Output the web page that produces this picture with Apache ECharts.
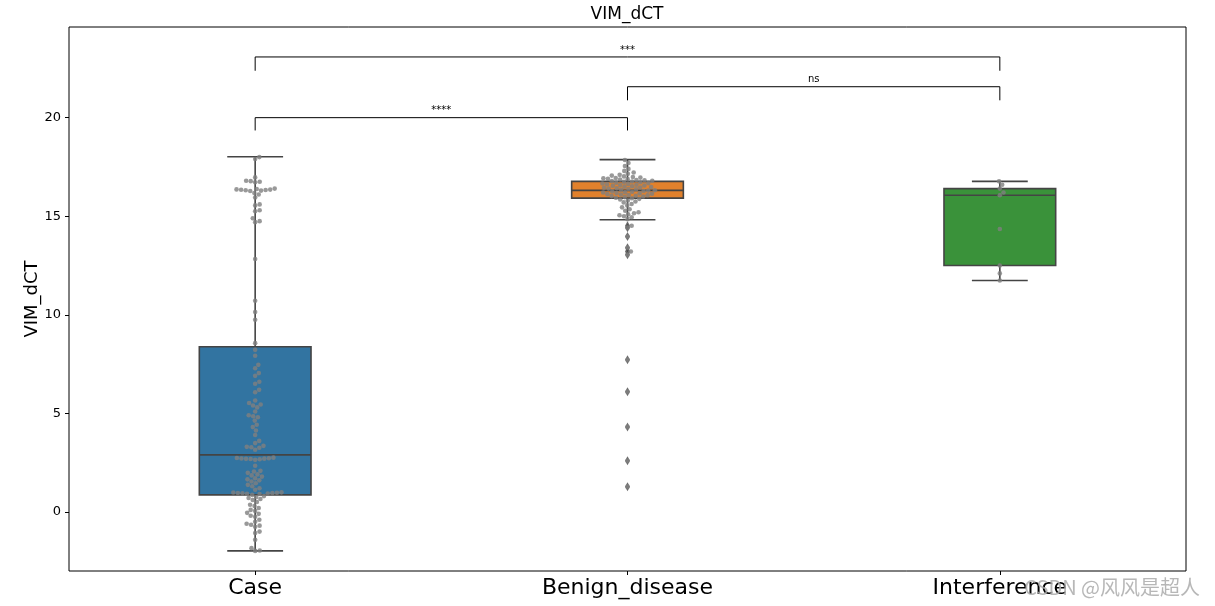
<!DOCTYPE html>
<html>
<head>
<meta charset="utf-8">
<script src="https://cdn.jsdelivr.net/npm/echarts@6/dist/echarts.min.js"></script>
<style>
  html, body { margin: 0; padding: 0; background: #fff; }
  #main { width: 1215px; height: 606px; }
</style>
</head>
<body>
<div id="main"></div>
<script>
// groups and box colours
var categories = ['Case', 'Benign_disease', 'Interference'];
var boxColors = ['#3274a1', '#e1812c', '#3a923a'];

// whisker low, Q1, median, Q3, whisker high
var boxCase = [-1.98, 0.86, 2.89, 8.38, 18.02];
var boxBenign = [14.82, 15.92, 16.31, 16.77, 17.87];
var boxInterference = [11.74, 12.50, 16.06, 16.40, 16.77];

// raw VIM_dCT values per group
var caseValues = [
  18.0, 17.9, 16.97, 16.8, 16.78, 16.75, 16.72,
  16.4, 16.38, 16.36, 16.35, 16.34, 16.33, 16.32, 16.3, 16.28,
  16.18, 16.1, 15.95, 15.6, 15.55, 15.3, 15.25, 14.9, 14.75, 14.7,
  12.83, 10.71, 10.14, 9.75, 8.56, 8.22, 7.92, 7.46, 7.29, 7.04, 6.9, 6.6, 6.5,
  6.19, 6.07, 5.65, 5.52, 5.45, 5.4, 5.3, 5.09, 4.9, 4.85, 4.8, 4.63, 4.42, 4.3, 4.13,
  3.9, 3.6, 3.49, 3.35, 3.3, 3.28, 3.25, 3.15,
  2.75, 2.73, 2.72, 2.71, 2.7, 2.69, 2.68, 2.67, 2.64, 2.34, 2.08, 2.05, 1.98,
  1.9, 1.85, 1.79, 1.7, 1.65, 1.6, 1.54, 1.45, 1.37, 1.3, 1.2, 1.12,
  0.99, 0.98, 0.97, 0.96, 0.95, 0.94, 0.93, 0.92, 0.91,
  0.86, 0.8, 0.75, 0.7, 0.65, 0.6, 0.5, 0.36, 0.3, 0.2, 0.1, 0.05,
  -0.05, -0.1, -0.2, -0.25, -0.4, -0.5, -0.6, -0.65, -0.7, -0.76,
  -1.0, -1.07, -1.42, -1.84, -1.96, -1.98
];
var benignValues = [
  17.85, 17.7, 17.55, 17.4, 17.3, 17.22, 17.15, 17.1, 17.06, 17.02, 16.99, 16.96,
  16.94, 16.92, 16.9, 16.88, 16.86, 16.84, 16.82, 16.8, 16.78, 16.76, 16.74, 16.72,
  16.7, 16.68, 16.66, 16.64, 16.62, 16.6, 16.58, 16.56, 16.54, 16.52, 16.5, 16.48,
  16.46, 16.44, 16.42, 16.4, 16.38, 16.36, 16.34, 16.32, 16.3, 16.28, 16.26, 16.24,
  16.22, 16.2, 16.18, 16.16, 16.14, 16.12, 16.1, 16.08, 16.06, 16.04, 16.02, 16.0,
  15.97, 15.94, 15.91, 15.88, 15.85, 15.8, 15.75, 15.7, 15.62, 15.55, 15.45, 15.35,
  15.28, 15.2, 15.15, 15.1, 15.05, 15.0, 14.95, 14.85,
  14.52, 14.42, 13.97, 13.40, 13.21, 13.05, 7.72, 6.09, 4.31, 2.59, 1.28
];
var interferenceValues = [16.77, 16.6, 16.4, 16.2, 16.06, 14.35, 12.5, 12.1, 11.74];

// y ticks
var yTicks = [0, 5, 10, 15, 20];

// significance brackets: pair, top height, leg length, label
var bracketPairs = [[0, 1], [1, 2], [0, 2]];
var bracketTops = [20.0, 21.57, 23.08];
var bracketLegs = [0.65, 0.69, 0.7];
var bracketLabels = ['****', 'ns', '***'];

var boxes = [boxCase, boxBenign, boxInterference];
var groups = [caseValues, benignValues, interferenceValues];

var gridLeft = 69, gridRight = 29, gridTop = 27, gridBottom = 35;
var yMin = -3.0, yMax = 24.6;
var pxPerX = (1215 - gridLeft - gridRight) / 3;
var pxPerY = (606 - gridTop - gridBottom) / (yMax - yMin);
var dotSize = 4.6;
var lineColor = '#444444';

// beeswarm offsets, in x-axis units
function swarm(values) {
  var d = dotSize;
  var sorted = values.slice().sort(function (a, b) { return a - b; });
  var placed = [];
  var out = [];
  sorted.forEach(function (v) {
    var y = v * pxPerY;
    var cands = [0];
    placed.forEach(function (p) {
      var dy = Math.abs(p.y - y);
      if (dy < d) {
        var dx = Math.sqrt(d * d - dy * dy);
        cands.push(p.x + dx, p.x - dx);
      }
    });
    cands.sort(function (a, b) { return Math.abs(a) - Math.abs(b); });
    var x = 0;
    for (var k = 0; k < cands.length; k++) {
      var c = cands[k];
      var ok = placed.every(function (p) {
        return (p.x - c) * (p.x - c) + (p.y - y) * (p.y - y) >= d * d - 1e-6;
      });
      if (ok) { x = c; break; }
    }
    placed.push({ x: x, y: y });
    out.push([x / pxPerX, v]);
  });
  return out;
}

var dotData = [];
var flierData = [];
groups.forEach(function (vals, i) {
  swarm(vals).forEach(function (p) {
    dotData.push([i + p[0], p[1]]);
  });
  vals.forEach(function (v) {
    if (v < boxes[i][0] - 1e-9 || v > boxes[i][4] + 1e-9) flierData.push([i, v]);
  });
});

var boxData = boxes.map(function (b, i) { return [i].concat(b); });
var bracketData = bracketPairs.map(function (p, i) {
  return [p[0], p[1], bracketTops[i], bracketLegs[i], i];
});

function renderBox(params, api) {
  var i = api.value(0);
  var hw = 0.15, cw = 0.075;
  var low = api.coord([i, api.value(1)]);
  var q1 = api.coord([i, api.value(2)]);
  var med = api.coord([i, api.value(3)]);
  var q3 = api.coord([i, api.value(4)]);
  var high = api.coord([i, api.value(5)]);
  var xl = api.coord([i - hw, 0])[0], xr = api.coord([i + hw, 0])[0];
  var cl = api.coord([i - cw, 0])[0], cr = api.coord([i + cw, 0])[0];
  var ls = { stroke: lineColor, lineWidth: 1.6 };
  return {
    type: 'group',
    children: [
      { type: 'line', shape: { x1: low[0], y1: low[1], x2: q1[0], y2: q1[1] }, style: ls },
      { type: 'line', shape: { x1: q3[0], y1: q3[1], x2: high[0], y2: high[1] }, style: ls },
      { type: 'line', shape: { x1: cl, y1: low[1], x2: cr, y2: low[1] }, style: ls },
      { type: 'line', shape: { x1: cl, y1: high[1], x2: cr, y2: high[1] }, style: ls },
      { type: 'rect', shape: { x: xl, y: q3[1], width: xr - xl, height: q1[1] - q3[1] },
        style: { fill: boxColors[i], stroke: lineColor, lineWidth: 1.6 } },
      { type: 'line', shape: { x1: xl, y1: med[1], x2: xr, y2: med[1] }, style: ls }
    ]
  };
}

function renderBracket(params, api) {
  var a = api.value(0), b = api.value(1), top = api.value(2), leg = api.value(3);
  var idx = api.value(4);
  var p1 = api.coord([a, top - leg]);
  var p2 = api.coord([a, top]);
  var p3 = api.coord([b, top]);
  var p4 = api.coord([b, top - leg]);
  return {
    type: 'group',
    children: [
      { type: 'polyline', shape: { points: [p1, p2, p3, p4] },
        style: { stroke: '#000', lineWidth: 1, fill: null } },
      { type: 'text', x: (p2[0] + p3[0]) / 2, y: p2[1] - 2,
        style: { text: bracketLabels[idx], fontSize: 10, fontFamily: 'DejaVu Sans',
          fill: '#000', align: 'center', verticalAlign: 'bottom' } }
    ]
  };
}

var chart = echarts.init(document.getElementById('main'));
chart.setOption({
  animation: false,
  backgroundColor: '#fff',
  grid: {
    left: gridLeft, right: gridRight, top: gridTop, bottom: gridBottom,
    show: true, borderColor: '#000', borderWidth: 1, backgroundColor: 'transparent'
  },
  graphic: [
    { type: 'text', x: 627, y: 15, z: 10,
      style: { text: 'VIM_dCT', fontSize: 17, fontFamily: 'DejaVu Sans', fill: '#000',
        align: 'center', verticalAlign: 'middle' } },
    { type: 'text', x: 1200, y: 587, z: 10,
      style: { text: 'CSDN @风风是超人', fontSize: 20, fontFamily: 'Noto Sans CJK SC',
        fill: 'rgba(170,170,170,0.85)', align: 'right', verticalAlign: 'middle' } }
  ],
  xAxis: [
    {
      type: 'category', data: categories, boundaryGap: true,
      axisLine: { show: false, onZero: false },
      axisTick: { show: true, alignWithLabel: true, length: 4, lineStyle: { color: '#000' } },
      axisLabel: { fontSize: 22, fontFamily: 'DejaVu Sans', color: '#000', margin: 6 },
      splitLine: { show: false }
    },
    { type: 'value', min: -0.5, max: 2.5, show: false,
      axisLine: { onZero: false }, splitLine: { show: false } }
  ],
  yAxis: {
    type: 'value', min: yMin, max: yMax,
    name: 'VIM_dCT', nameLocation: 'middle', nameGap: 28, nameMoveOverlap: false,
    nameTextStyle: { fontSize: 18, fontFamily: 'DejaVu Sans', color: '#000' },
    axisLine: { show: false, onZero: false },
    axisTick: { show: true, length: 4, customValues: yTicks, lineStyle: { color: '#000' } },
    axisLabel: { customValues: yTicks, fontSize: 13, fontFamily: 'DejaVu Sans', color: '#000', margin: 8 },
    splitLine: { show: false }
  },
  series: [
    { type: 'custom', xAxisIndex: 1, renderItem: renderBox, data: boxData, z: 2, silent: true },
    { type: 'scatter', xAxisIndex: 1, data: flierData, symbol: 'diamond', symbolSize: [5, 9],
      itemStyle: { color: '#4a4a4a' }, z: 3, silent: true },
    { type: 'scatter', xAxisIndex: 1, data: dotData, symbolSize: dotSize,
      itemStyle: { color: '#808080' }, z: 4, silent: true },
    { type: 'custom', xAxisIndex: 1, renderItem: renderBracket, data: bracketData, z: 5, silent: true }
  ]
});
</script>
</body>
</html>
